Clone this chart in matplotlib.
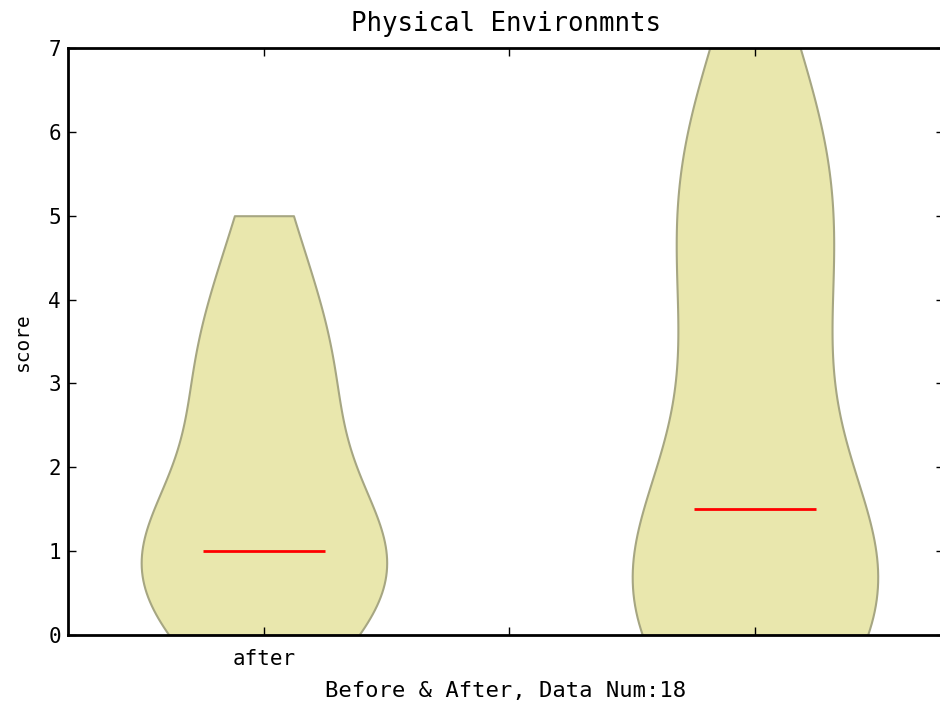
import numpy as np
import matplotlib.pyplot as plt

# scores (0-7) for each group, 18 answers each
after_scores = [0, 0, 0, 0, 1, 1, 1, 1, 1, 1, 2, 2, 3, 3, 3, 4, 4, 5]
before_scores = [0, 0, 0, 0, 0, 1, 1, 1, 1, 2, 3, 4, 4, 5, 5, 6, 6, 7]
tick_pos = [1, 1.5, 2]
tick_labels = ['after', '', '']

plt.rcParams['font.family'] = ['DejaVu Sans Mono']

fig = plt.figure(figsize=(9.4, 7.08), dpi=100)
ax = fig.add_axes([68 / 940, 1 - 635 / 708, 876 / 940, 587 / 708])

parts = ax.violinplot([after_scores, before_scores], positions=[1, 2],
                      showmedians=True, showextrema=False)
for body in parts['bodies']:
    body.set_facecolor('#e9e7ad')
    body.set_edgecolor('#a6a682')
    body.set_linewidth(1.5)
    body.set_alpha(1)
parts['cmedians'].set_color('red')
parts['cmedians'].set_linewidth(2)

ax.set_xlim(0.601, 2.385)
ax.set_ylim(0, 7)
ax.set_xticks(tick_pos)
ax.set_xticklabels(tick_labels, fontsize=15)
ax.set_yticks(range(8))
ax.tick_params(axis='y', labelsize=15, pad=5)
ax.tick_params(axis='x', pad=10)
ax.tick_params(direction='in', top=True, right=True, length=6, width=1)
for sp in ax.spines.values():
    sp.set_linewidth(2)

ax.set_title('Physical Environmnts', fontsize=18.5, pad=12)
ax.set_xlabel('Before & After, Data Num:18', fontsize=16, labelpad=9)
ax.set_ylabel('score', fontsize=14, labelpad=12)

fig.savefig('out.png', dpi=100)
